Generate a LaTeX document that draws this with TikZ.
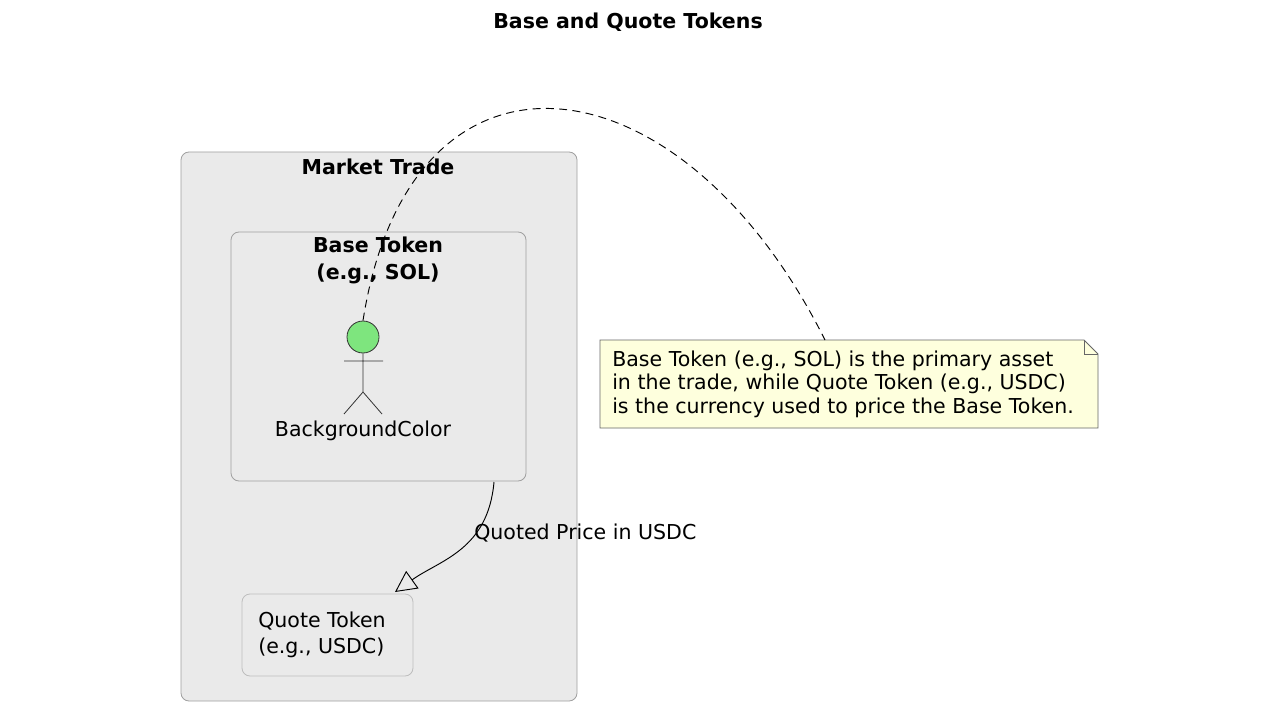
\documentclass[tikz,border=0pt]{standalone}
\usepackage{fontspec}
\setmainfont{DejaVu Sans}
\usetikzlibrary{arrows.meta}
\definecolor{boxfill}{HTML}{EAEAEA}
\definecolor{boxline}{HTML}{A0A0A0}
\definecolor{notefill}{HTML}{FEFFDD}
\tikzset{x=0.75pt,y=-0.75pt,
 pkg/.style={draw=boxline,fill=boxfill,rounded corners=6pt,line width=0.6pt},
 lbl/.style={font=\fontsize{15.4}{18}\selectfont,inner sep=0pt},
 ttl/.style={font=\bfseries\fontsize{15.4}{20}\selectfont,inner sep=0pt,align=center}}
\begin{document}
\begin{tikzpicture}
\useasboundingbox (0,0) rectangle (1280,720);
\fill[white] (0,0) rectangle (1280,720);
\node[ttl] (title) at (628,22) {Base and Quote Tokens};
\draw[pkg] (181,152) rectangle (577,701);
\node[ttl] (mt) at (378,167) {Market Trade};
\draw[pkg] (231,232) rectangle (526,481);
\node[ttl,font=\bfseries\fontsize{15.4}{20.3}\selectfont] (bt) at (378,260) {Base Token\\(e.g., SOL)};
\draw[draw=boxline!70,fill=boxfill,rounded corners=6pt,line width=0.6pt] (242,594) rectangle (413,676);
\node[lbl,align=left,anchor=west,font=\fontsize{15.4}{19.5}\selectfont] (qt) at (258,635) {Quote Token\\(e.g., USDC)};
% actor
\node[circle,draw=black!80,fill=green!45!white!90!black,minimum size=24,inner sep=0pt,line width=0.6pt] (head) at (363,337) {};
\draw[line width=0.6pt,black!80] (head.south) -- (363,392) coordinate (hip)
 (344,361) -- (383,361) (344,414) -- (hip) -- (382,414);
\node[lbl] (actor) at (363,431) {BackgroundColor};
% note
\draw[draw=black!60,fill=notefill,line width=0.6pt] (600,340) -- (1084,340) -- (1098,354) -- (1098,428) -- (600,428) -- cycle;
\draw[draw=black!60,line width=0.6pt] (1084,340) -- (1084,354) -- (1098,354);
\node[lbl,align=left,anchor=north west,font=\fontsize{15.4}{17.3}\selectfont] (note) at (612,351) {Base Token (e.g., SOL) is the primary asset\\in the trade, while Quote Token (e.g., USDC)\\is the currency used to price the Base Token.};
\coordinate (ntop) at (825,340);
\draw[dashed,line width=0.7pt,dash pattern=on 6pt off 4pt] (head.north) .. controls (410,20) and (680,50) .. (ntop);
% arrow
\coordinate (a1) at (494,482);
\coordinate (a2) at (395,592);
\draw[line width=0.7pt,-{Triangle[open,length=16pt,width=16pt]}] (a1) .. controls (488,550) and (440,560) .. (a2);
\node[lbl,anchor=west] (ql) at (474,533) {Quoted Price in USDC};
\end{tikzpicture}
\end{document}
